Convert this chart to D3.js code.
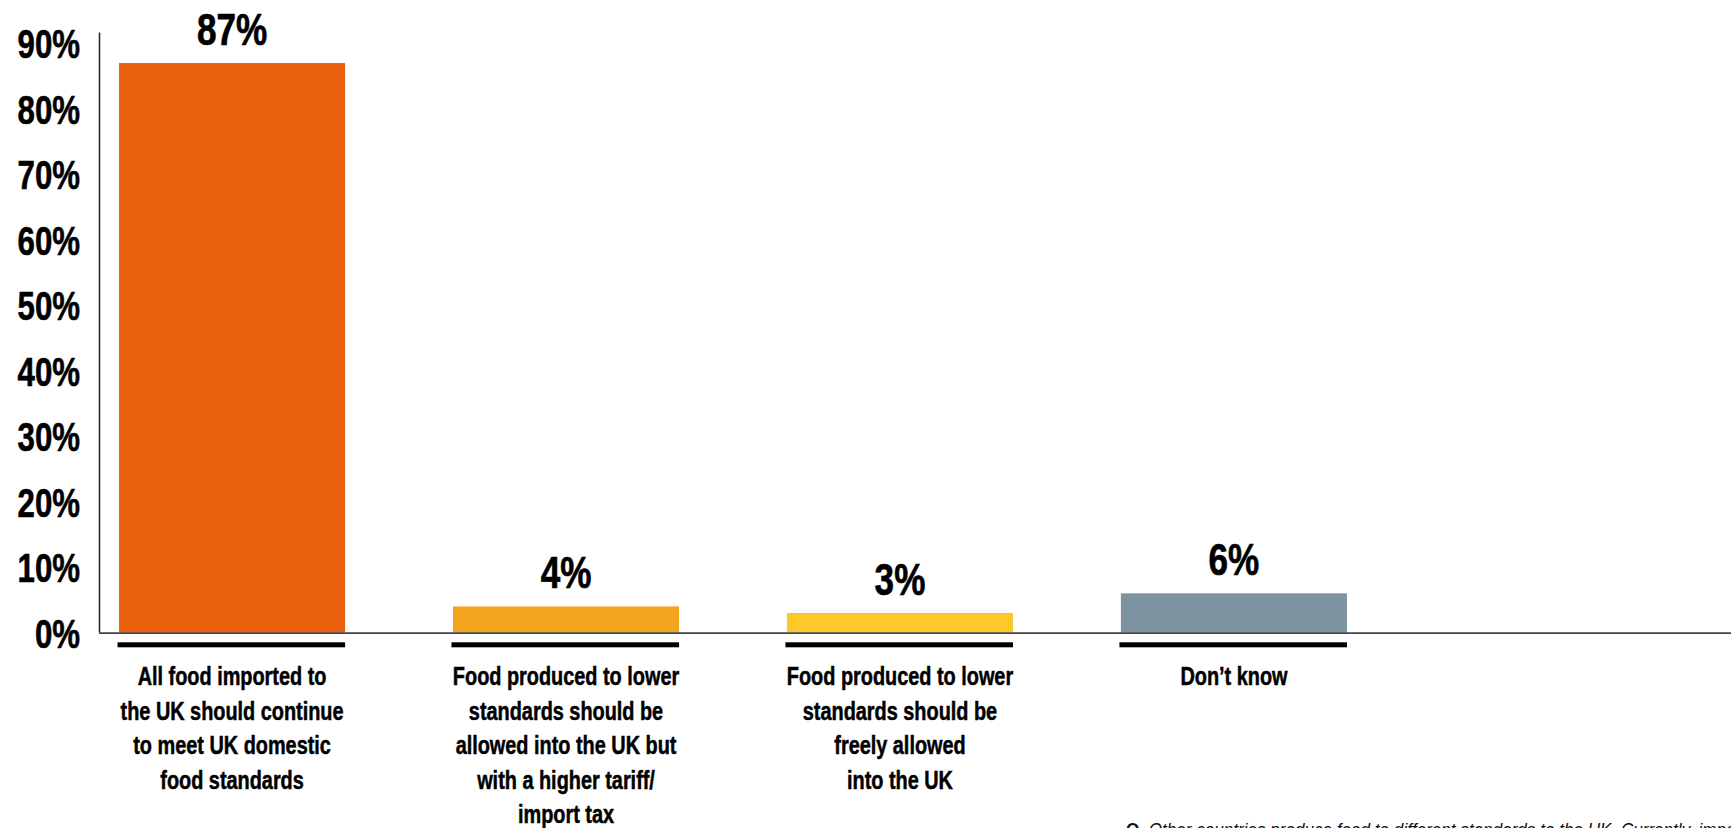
<!DOCTYPE html>
<html>
<head>
<meta charset="utf-8">
<script src="https://cdn.jsdelivr.net/npm/d3@7"></script>
<style>
  html, body { margin: 0; padding: 0; background: #fff; }
  svg { display: block; }
  text { font-family: "Liberation Sans", Arial, sans-serif; fill: #000; }
</style>
</head>
<body>
<script>
// Survey answers and their shares (%)
const categories = [
  "All food imported to the UK should continue to meet UK domestic food standards",
  "Food produced to lower standards should be allowed into the UK but with a higher tariff/ import tax",
  "Food produced to lower standards should be freely allowed into the UK",
  "Don’t know"
];
const labelLines = [
  ["All food imported to", "the UK should continue", "to meet UK domestic", "food standards"],
  ["Food produced to lower", "standards should be", "allowed into the UK but", "with a higher tariff/", "import tax"],
  ["Food produced to lower", "standards should be", "freely allowed", "into the UK"],
  ["Don’t know"]
];
const values = [87, 4, 3, 6];
const barColors = ["#EB620E", "#F3A41F", "#FCC82A", "#7D939F"];
const tickValues = [0, 10, 20, 30, 40, 50, 60, 70, 80, 90];
const footnote = "Q. Other countries produce food to different standards to the UK. Currently, imported food";

const W = 1731, H = 828;
const svg = d3.select("body").append("svg").attr("width", W).attr("height", H);

const x = d3.scaleBand()
  .domain(categories)
  .range([119, 1347])
  .paddingInner(0.323)
  .paddingOuter(0);

const y = d3.scaleLinear().domain([0, 90]).range([632.6, 43.4]);

// Narrowed heavy type
const NARROW = 0.78;

// Y axis labels
const yAxis = d3.axisLeft(y).tickValues(tickValues).tickSize(0).tickPadding(0)
  .tickFormat(d => d + "%");
const gy = svg.append("g").attr("transform", "translate(80,0)").call(yAxis);
gy.select(".domain").remove();
gy.selectAll("text")
  .attr("x", 0)
  .attr("dy", "0.36em")
  .attr("transform", `scale(${NARROW},1)`)
  .style("font-family", "\"Liberation Sans\", Arial, sans-serif")
  .style("font-size", "40px")
  .style("font-weight", "700")
  .style("fill", "#000")
  .style("stroke", "#000")
  .style("stroke-width", "0.6px");

// Vertical axis line
svg.append("line")
  .attr("x1", 99.5).attr("x2", 99.5)
  .attr("y1", y(90) - 11).attr("y2", y(0))
  .attr("stroke", "#222").attr("stroke-width", 1.5);

// Bars
svg.append("g").selectAll("rect")
  .data(values)
  .join("rect")
  .attr("x", (d, i) => x(categories[i]))
  .attr("width", x.bandwidth())
  .attr("y", d => y(d))
  .attr("height", d => y(0) - y(d))
  .attr("fill", (d, i) => barColors[i]);

// Baseline
svg.append("line")
  .attr("x1", 99).attr("x2", W)
  .attr("y1", y(0) + 0.5).attr("y2", y(0) + 0.5)
  .attr("stroke", "#444").attr("stroke-width", 1.6);

// Value labels
svg.append("g").selectAll("text")
  .data(values)
  .join("text")
  .attr("transform", (d, i) => `translate(${x(categories[i]) + x.bandwidth() / 2},${y(d) - 18}) scale(${NARROW},1)`)
  .attr("text-anchor", "middle")
  .style("font-size", "45px")
  .style("font-weight", "700")
  .style("stroke", "#000")
  .style("stroke-width", "0.7px")
  .text(d => d + "%");

// Black rules under each category
svg.append("g").selectAll("rect")
  .data(categories)
  .join("rect")
  .attr("x", d => x(d) - 1.5)
  .attr("width", x.bandwidth() + 1.5)
  .attr("y", y(0) + 9.7)
  .attr("height", 5)
  .attr("fill", "#000");

// Category labels
const catG = svg.append("g").selectAll("g")
  .data(categories)
  .join("g")
  .attr("transform", d => `translate(${x(d) + x.bandwidth() / 2},0)`);
catG.each(function (d, i) {
  d3.select(this).selectAll("text")
    .data(labelLines[i])
    .join("text")
    .attr("transform", (t, j) => `translate(0,${685 + j * 34.5}) scale(0.765,1)`)
    .attr("text-anchor", "middle")
    .style("font-size", "26px")
    .style("font-weight", "700")
    .style("stroke", "#000")
    .style("stroke-width", "0.5px")
    .text(t => t);
});

// Question footnote
const fn = svg.append("text")
  .attr("transform", "translate(1126,836) scale(0.9,1)")
  .style("font-size", "19px")
  .style("font-style", "italic")
  .style("fill", "#111");
fn.append("tspan").style("font-weight", "700").style("font-style", "normal").text("Q.");
fn.append("tspan").text(" " + footnote.slice(3));
</script>
</body>
</html>
